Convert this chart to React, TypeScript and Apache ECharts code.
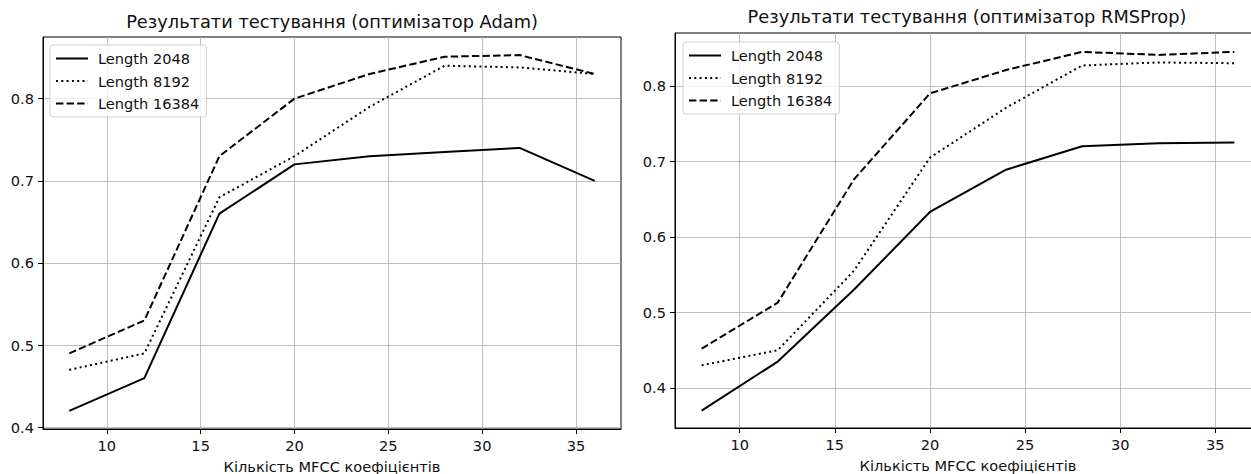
import React, { useEffect, useRef } from "react";
import * as echarts from "echarts";

const mfcc = [8, 12, 16, 20, 24, 28, 32, 36];
const adam2048 = [0.42, 0.46, 0.66, 0.72, 0.73, 0.735, 0.74, 0.7];
const adam8192 = [0.47, 0.49, 0.68, 0.73, 0.79, 0.84, 0.838, 0.83];
const adam16384 = [0.49, 0.53, 0.73, 0.8, 0.83, 0.851, 0.853, 0.83];
const rms2048 = [0.37, 0.435, 0.53, 0.633, 0.689, 0.72, 0.724, 0.725];
const rms8192 = [0.43, 0.45, 0.555, 0.705, 0.771, 0.827, 0.831, 0.83];
const rms16384 = [0.452, 0.513, 0.676, 0.79, 0.821, 0.845, 0.841, 0.845];
const seriesNames = ["Length 2048", "Length 8192", "Length 16384"];
const xTicks = [10, 15, 20, 25, 30, 35];
const yTicks = [0.4, 0.5, 0.6, 0.7, 0.8];
const titles = [
  "Результати тестування (оптимізатор Adam)",
  "Результати тестування (оптимізатор RMSProp)",
];
const xName = "Кількість MFCC коефіцієнтів";

const FONT = "DejaVu Sans";
const SMALL = 14.6;
const lineTypes: any[] = ["solid", [2, 3.3], [7.4, 3.2]];

export default function App() {
  const ref = useRef<HTMLDivElement>(null);
  useEffect(() => {
    if (!ref.current) return;
    const chart = echarts.init(ref.current, null, { renderer: "svg" });
    const grids = [
      { left: 43, top: 37, width: 578, height: 392 },
      { left: 675, top: 33, width: 586, height: 395 },
    ];
    const yRanges = [
      [0.398, 0.875],
      [0.347, 0.87],
    ];
    const data = [
      [adam2048, adam8192, adam16384],
      [rms2048, rms8192, rms16384],
    ];
    const xAxis = grids.map((_, i) => ({
      type: "value",
      gridIndex: i,
      min: 6.6,
      max: 37.4,
      name: xName,
      nameLocation: "middle",
      nameGap: 29.5,
      nameTextStyle: { fontFamily: FONT, fontSize: SMALL, lineHeight: 15, color: "#111" },
      axisLine: { show: true, lineStyle: { color: "#000", width: 1 } },
      axisTick: { show: true, length: 5, lineStyle: { color: "#000" }, customValues: xTicks },
      axisLabel: { fontFamily: FONT, fontSize: SMALL, color: "#111", margin: 9, customValues: xTicks },
      splitLine: { show: true, lineStyle: { color: "#b0b0b0", width: 0.8 } },
    }));
    const yAxis = grids.map((_, i) => ({
      type: "value",
      gridIndex: i,
      min: yRanges[i][0],
      max: yRanges[i][1],
      axisLine: { show: true, lineStyle: { color: "#000", width: 1 } },
      axisTick: { show: true, length: 5, lineStyle: { color: "#000" }, customValues: yTicks },
      axisLabel: {
        fontFamily: FONT,
        fontSize: SMALL,
        color: "#111",
        margin: 9,
        customValues: yTicks,
        formatter: (v: number) => v.toFixed(1),
      },
      splitLine: { show: true, lineStyle: { color: "#b0b0b0", width: 0.8 } },
    }));
    const series: any[] = [];
    data.forEach((group, gi) => {
      group.forEach((vals, si) => {
        series.push({
          type: "line",
          name: seriesNames[si],
          xAxisIndex: gi,
          yAxisIndex: gi,
          data: mfcc.map((x, k) => [x, vals[k]]),
          symbol: "none",
          lineStyle: { color: "#000", width: 2, type: lineTypes[si] },
          itemStyle: { color: "#000" },
        });
      });
    });
    const legendBase = {
      orient: "vertical",
      itemWidth: 32,
      itemHeight: 14,
      itemGap: 7.5,
      borderColor: "#d0d0d0",
      borderWidth: 1,
      borderRadius: 3,
      backgroundColor: "rgba(255,255,255,0.8)",
      padding: [6, 7, 6, 5],
      selectedMode: false,
      data: seriesNames,
      itemStyle: { opacity: 0 },
      lineStyle: { color: "#000", width: 2 },
      textStyle: { fontFamily: FONT, fontSize: SMALL, color: "#111", padding: [0, 0, 0, 5] },
    };
    chart.setOption({
      animation: false,
      backgroundColor: "#fff",
      title: [
        {
          text: titles[0],
          left: 332,
          top: 12,
          textAlign: "center",
          padding: 0,
          textStyle: { fontFamily: FONT, fontSize: 17.8, fontWeight: "normal", color: "#111" },
        },
        {
          text: titles[1],
          left: 967,
          top: 7,
          textAlign: "center",
          padding: 0,
          textStyle: { fontFamily: FONT, fontSize: 17.8, fontWeight: "normal", color: "#111" },
        },
      ],
      legend: [
        { ...legendBase, left: 50, top: 45 },
        { ...legendBase, left: 683, top: 42 },
      ],
      grid: grids.map((g) => ({
        ...g,
        show: true,
        borderColor: "#000",
        borderWidth: 1,
        backgroundColor: "transparent",
        containLabel: false,
        outerBoundsMode: "none",
      })),
      xAxis,
      yAxis,
      series,
    });
    return () => chart.dispose();
  }, []);
  return (
    <div
      ref={ref}
      style={{ position: "fixed", left: 0, top: 0, width: 1251, height: 474 }}
    />
  );
}
